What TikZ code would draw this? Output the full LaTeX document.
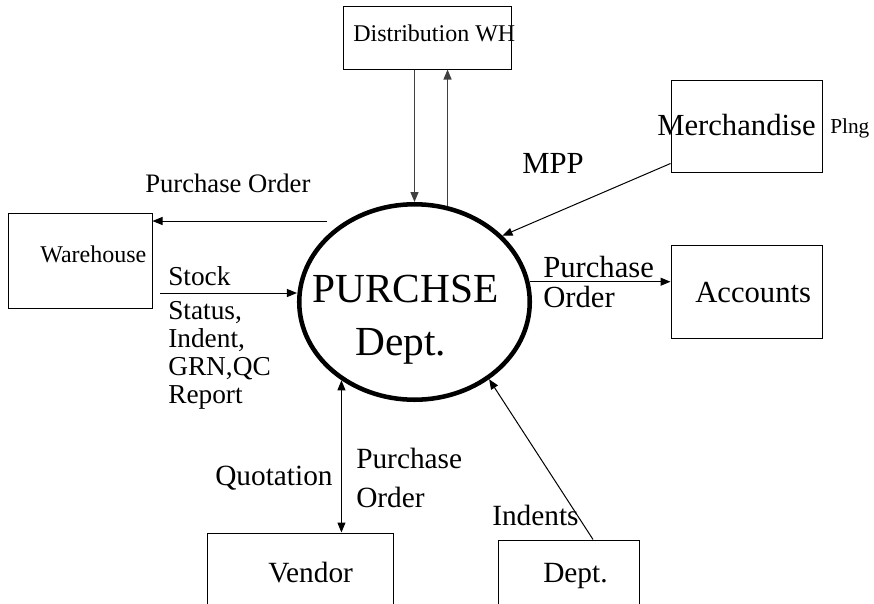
\documentclass[tikz,border=0pt]{standalone}
\usepackage{fontspec}
\setmainfont{Liberation Serif}
\usetikzlibrary{shapes.geometric, arrows.meta, positioning}
\tikzset{flowtip/.tip={Triangle[length=7.5pt,width=6pt]}}

\begin{document}
\begin{tikzpicture}[x=0.75pt, y=-0.75pt,
    box/.style={draw, rectangle, line width=0.75pt, inner sep=0pt},
    lbl/.style={anchor=base west, inner sep=0pt, font=\fontsize{22}{26}\selectfont},
    biglbl/.style={lbl, font=\fontsize{23}{27}\selectfont},
    midlbl/.style={lbl, font=\fontsize{20.5}{24}\selectfont},
    smalllbl/.style={lbl, font=\fontsize{18}{21}\selectfont},
    flow/.style={line width=0.75pt, -flowtip}]
\useasboundingbox (0,0) rectangle (874,603);
\clip (0,0) rectangle (874,603);

% central process
\node[draw, ellipse, line width=3.4pt, inner sep=0pt,
      minimum width=172.9pt, minimum height=146.6pt] (purch) at (414.5,302) {};
\node[lbl, font=\fontsize{31}{35}\selectfont] (purchT) at (312,302) {PURCHSE};
\node[lbl, font=\fontsize{31}{35}\selectfont] (purchD) at (355,355) {Dept.};

% external entities
\node[box, minimum width=126pt, minimum height=47.25pt] (dist) at (427,37.5) {};
\node[box, minimum width=108pt, minimum height=71.25pt] (wh) at (80,260.5) {};
\node[box, minimum width=113.25pt, minimum height=69pt] (merch) at (746.5,126) {};
\node[box, minimum width=113.25pt, minimum height=69.75pt] (acc) at (746.5,291.5) {};
\node[box, minimum width=139.5pt, minimum height=75pt] (vend) at (300,583) {};
\node[box, minimum width=105.75pt, minimum height=75pt] (dept) at (568.5,590) {};

\node[smalllbl] (distT) at (353,41) {Distribution WH};
\node[smalllbl] (whT) at (40,262) {Warehouse};
\node[biglbl] (merchT) at (657,135) {Merchandise};
\node[lbl, font=\fontsize{16}{19}\selectfont] (plngT) at (830,133) {Plng};
\node[biglbl] (accT) at (695,302) {Accounts};
\node[lbl] (vendT) at (268,582) {Vendor};
\node[lbl] (deptT) at (543,582) {Dept.};

% Distribution WH flows
\draw[flow, black!75, line width=0.9pt] (dist.south -| purch.north) -- (purch.north);
\draw[flow, black!75, line width=0.9pt] (purch.71) -- (purch.71 |- dist.south);

% Warehouse flows
\coordinate (poStart) at (327,221);
\draw[flow] (poStart) -- (poStart -| wh.east);
\node[midlbl, font=\fontsize{20}{24}\selectfont] (poT) at (145,192) {Purchase Order};
\coordinate (stStart) at (160,293);
\draw[flow] (stStart) -- (stStart -| purch.west);
\foreach \i/\y/\t in {1/285/Stock, 2/319/{Status,}, 3/347/{Indent,}, 4/375/{GRN,QC}, 5/403/Report} {
    \node[midlbl] (stock\i) at (168,\y) {\t};
}

% Merchandise Plng
\draw[flow] ([yshift=6.75pt]merch.south west) -- (purch.37);
\node[biglbl] (mppT) at (522,173) {MPP};

% Accounts
\draw[flow] (purch.10) -- (purch.10 -| acc.west);
\node[biglbl] (po2a) at (543,277) {Purchase};
\node[biglbl] (po2b) at (543,307) {Order};

% Vendor
\draw[line width=0.75pt, flowtip-flowtip] (purch.227) -- (purch.227 |- vend.north);
\node[lbl] (quoT) at (215,485) {Quotation};
\node[lbl] (po3a) at (356,468) {Purchase};
\node[lbl] (po3b) at (356,507) {Order};

% Dept.
\draw[flow] ([xshift=18.4pt]dept.north) -- (purch.-46);
\node[lbl] (indT) at (492,525) {Indents};
\end{tikzpicture}
\end{document}
